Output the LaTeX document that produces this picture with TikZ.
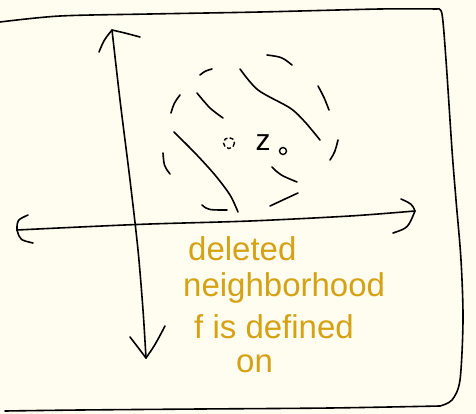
\documentclass[tikz,border=0pt]{standalone}
\usepackage{fontspec}
\setmainfont{Liberation Sans}
\definecolor{paper}{RGB}{255,253,240}
\definecolor{gold}{RGB}{212,162,20}
\begin{document}
\begin{tikzpicture}[x=1pt,y=-1pt,
  ink/.style={black,line width=1.6pt,line cap=round,line join=round},
  goldtext/.style={text=gold,font=\fontsize{33}{36}\selectfont,inner sep=0pt,anchor=west}]
\fill[paper] (0,0) rectangle (476,414);
\useasboundingbox (0,0) rectangle (476,414);
% frame
\draw[ink] plot[smooth] coordinates {(0,22) (60,16) (150,14) (260,12) (380,9) (437,9)};
\draw[ink] plot[smooth] coordinates {(437,9) (442,14) (446,60) (452,150) (456,200) (461,260) (463,320) (460,380) (452,400) (440,406)};
\draw[ink] plot[smooth] coordinates {(440,406) (330,408) (200,409) (80,410) (5,411)};
% vertical axis
\coordinate (vt) at (112,30);
\coordinate (vb) at (146,358);
\draw[ink] plot[smooth] coordinates {(vt) (120,100) (130,180) (138,250) (143,310) (vb)};
\draw[ink] (99,52) .. controls (104,40) .. (vt) .. controls (125,33) .. (140,37);
\draw[ink] (130,337) .. controls (140,350) .. (vb) .. controls (155,345) .. (165,326);
% horizontal axis
\coordinate (hl) at (17,230);
\coordinate (hr) at (415,211);
\draw[ink] plot[smooth] coordinates {(hl) (80,227) (150,224) (250,221) (350,216) (hr)};
\draw[ink] (28,215) .. controls (17,220) .. (hl) .. controls (20,240) .. (33,243);
\draw[ink] (401,199) .. controls (412,204) .. (hr) .. controls (408,228) .. (393,233);
% dashed neighbourhood
\draw[ink] (200,75) .. controls (205,71) .. (212,69);
\draw[ink] (267,55) .. controls (282,57) .. (292,65);
\draw[ink] (171,113) .. controls (174,103) .. (180,95);
\draw[ink] (163,153) .. controls (164,166) .. (170,174);
\draw[ink] (202,205) .. controls (208,210) .. (227,210);
\draw[ink] (270,206) .. controls (285,199) .. (298,193);
\draw[ink] (318,86) .. controls (324,97) .. (329,110);
\draw[ink] (338,140) .. controls (335,152) .. (330,160);
\draw[ink] (272,167) .. controls (280,175) .. (297,182);
% hatching
\draw[ink] plot[smooth] coordinates {(197,93) (210,108) (223,118)};
\draw[ink] plot[smooth] coordinates {(240,69) (258,90) (290,108) (305,122) (320,140)};
\draw[ink] plot[smooth] coordinates {(174,132) (195,153) (215,175) (230,195) (238,212)};
% z0
\draw[black,line width=1.4pt,dash pattern=on 4pt off 2.5pt] (229,143) circle (5.5);
\node[inner sep=0pt,font=\fontsize{30}{30}\selectfont] (z) at (263,143) {z};
\draw[black,line width=1.4pt] (283,151) circle (3.5);
% text
\node[goldtext] (t1) at (188,249) {deleted};
\node[goldtext] (t2) at (183,288) {neighborhood};
\node[goldtext] (t3) at (194,327) {f is defined};
\node[goldtext] (t4) at (236,364) {on};
\end{tikzpicture}
\end{document}
